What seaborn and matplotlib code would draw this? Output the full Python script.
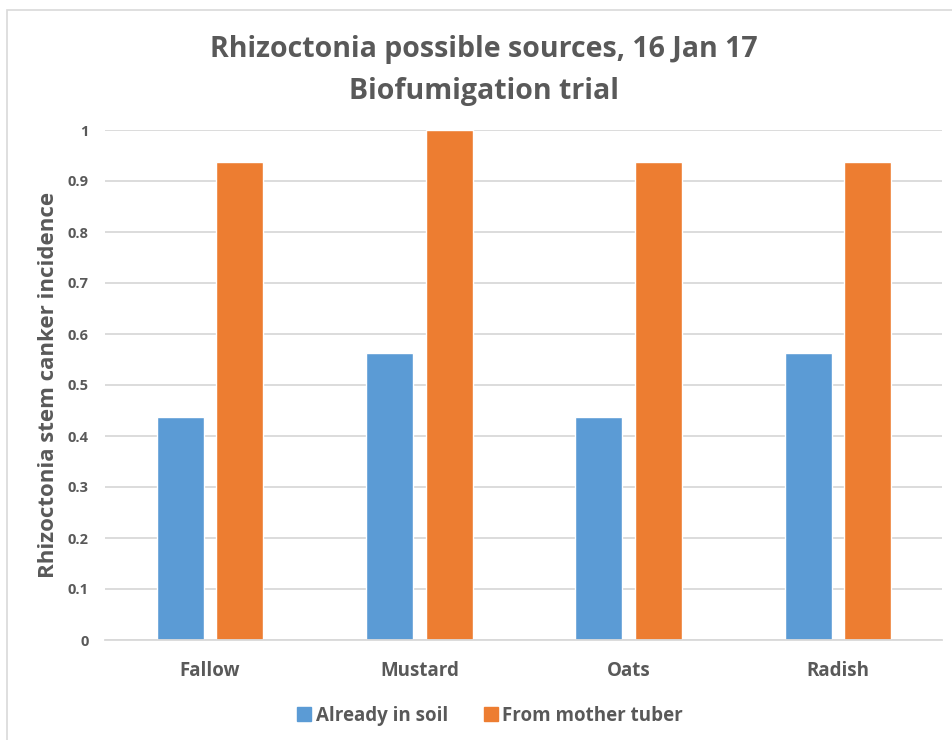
import matplotlib
matplotlib.use("Agg")
import matplotlib.pyplot as plt
from matplotlib.patches import Rectangle
import seaborn as sns
import pandas as pd

categories = ["Fallow", "Mustard", "Oats", "Radish"]
already_in_soil = [0.4375, 0.5625, 0.4375, 0.5625]
from_mother_tuber = [0.9375, 1.0, 0.9375, 0.9375]
series_names = ["Already in soil", "From mother tuber"]
y_ticks = [0, 0.1, 0.2, 0.3, 0.4, 0.5, 0.6, 0.7, 0.8, 0.9, 1]
y_tick_labels = ["0", "0.1", "0.2", "0.3", "0.4", "0.5", "0.6", "0.7", "0.8", "0.9", "1"]

df = pd.DataFrame({
    "category": categories * 2,
    "value": already_in_soil + from_mother_tuber,
    "source": [series_names[0]] * 4 + [series_names[1]] * 4,
})

sns.set_theme(style="white")
plt.rcParams["font.family"] = ["Open Sans", "DejaVu Sans"]
TXT = "#595959"
GRID = "#D9D9D9"
palette = {series_names[0]: "#5B9BD5", series_names[1]: "#ED7D31"}

W, H = 953, 740
fig = plt.figure(figsize=(W / 100, H / 100), dpi=100)
fig.patch.set_facecolor("white")

# chart-area outline
fig.patches.append(Rectangle((7 / W, -0.05), 1.2, 1 - 10 / H + 0.05,
                             transform=fig.transFigure, fill=False,
                             edgecolor=GRID, linewidth=1.2))

ax = fig.add_axes([105.5 / W, 100 / H, 837 / W, 510 / H])
sns.barplot(data=df, x="category", y="value", hue="source", order=categories,
            hue_order=series_names, palette=palette, width=0.57, gap=0.21,
            saturation=1, ax=ax, legend=False, errorbar=None)

ax.set_ylim(0, 1)
ax.set_xlim(-0.5, 3.5)
ax.set_yticks(y_ticks)
ax.set_yticklabels(y_tick_labels)
ax.yaxis.grid(True, color=GRID, linewidth=1.3)
ax.set_axisbelow(True)
for s in ["top", "right", "left"]:
    ax.spines[s].set_visible(False)
ax.spines["bottom"].set_color(GRID)
ax.spines["bottom"].set_linewidth(1.3)
ax.tick_params(axis="y", length=0, pad=12, labelsize=10.5, labelcolor=TXT)
ax.tick_params(axis="x", length=0, pad=15, labelsize=13.5, labelcolor=TXT)
for lab in ax.get_yticklabels() + ax.get_xticklabels():
    lab.set_fontweight("bold")
ax.set_xlabel("")
ax.set_ylabel("Rhizoctonia stem canker incidence", fontsize=16,
              fontweight="bold", color=TXT, labelpad=6)

fig.text(484 / W, 1 - 49 / H, "Rhizoctonia possible sources, 16 Jan 17",
         ha="center", va="center", fontsize=20.5, fontweight="bold", color=TXT)
fig.text(484 / W, 1 - 91 / H, "Biofumigation trial",
         ha="center", va="center", fontsize=20.5, fontweight="bold", color=TXT)

handles = [plt.Line2D([], [], marker="s", linestyle="", markersize=10,
                      color=palette[n]) for n in series_names]
leg = fig.legend(handles, series_names, loc="center", ncol=2,
                 bbox_to_anchor=(489 / W, 1 - 716 / H), frameon=False,
                 fontsize=13.5, handletextpad=0.1, columnspacing=1.8,
                 handlelength=1.0)
for t in leg.get_texts():
    t.set_color(TXT)
    t.set_fontweight("bold")

fig.savefig("out.png", dpi=100, facecolor="white")
